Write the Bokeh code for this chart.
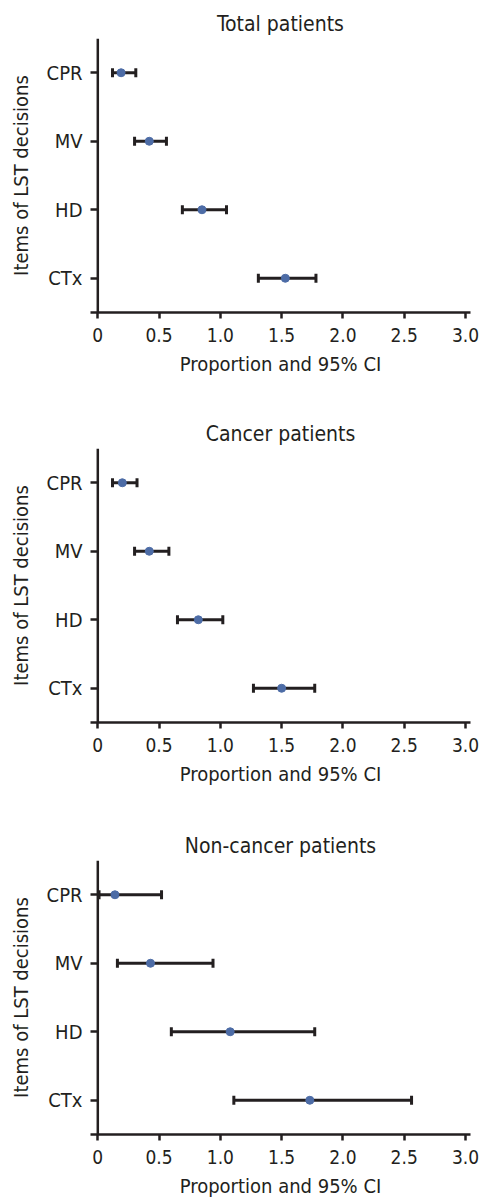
from bokeh.plotting import figure
from bokeh.models import ColumnDataSource, Whisker, TeeHead, Span, FixedTicker, FactorRange, Range1d
from bokeh.layouts import column
from bokeh.embed import file_html
from bokeh.resources import INLINE

# ---- data ----
categories = ["CPR", "MV", "HD", "CTx"]
panel_titles = ["Total patients", "Cancer patients", "Non-cancer patients"]

total_mid = [0.19, 0.42, 0.85, 1.53]
total_lo = [0.12, 0.30, 0.69, 1.31]
total_hi = [0.31, 0.56, 1.05, 1.78]

cancer_mid = [0.20, 0.42, 0.82, 1.50]
cancer_lo = [0.12, 0.30, 0.65, 1.27]
cancer_hi = [0.32, 0.58, 1.02, 1.77]

noncancer_mid = [0.14, 0.43, 1.08, 1.73]
noncancer_lo = [0.01, 0.16, 0.60, 1.11]
noncancer_hi = [0.52, 0.94, 1.77, 2.56]

x_ticks = [0, 0.5, 1.0, 1.5, 2.0, 2.5, 3.0]
x_tick_labels = ["0", "0.5", "1.0", "1.5", "2.0", "2.5", "3.0"]

x_label = "Proportion and 95% CI"
y_label = "Items of LST decisions"

FONT = "'DejaVu Sans Condensed', 'Liberation Sans Narrow', sans-serif"
TXT = "#231f20"
LINE = "#231f20"
DOT = "#4d6ca6"


def make_panel(title, mid, lo, hi, top, bottom):
    src = ColumnDataSource(dict(cat=categories, mid=mid, lo=lo, hi=hi))
    p = figure(
        width=481, height=top + 274 + bottom,
        min_border_left=90, min_border_right=11,
        min_border_top=top, min_border_bottom=bottom,
        x_range=Range1d(-0.0596, 3.041),
        y_range=FactorRange(factors=list(reversed(categories)), range_padding=0),
        output_backend="svg", toolbar_location=None,
    )
    p.outline_line_color = None
    p.xgrid.visible = False
    p.ygrid.visible = False

    p.title.text = title
    p.title.align = "center"
    p.title.text_font = FONT
    p.title.text_font_style = "normal"
    p.title.text_font_size = "21px"
    p.title.text_color = TXT
    p.title.standoff = 6

    # x axis
    xa = p.xaxis[0]
    xa.ticker = FixedTicker(ticks=x_ticks)
    xa.major_label_overrides = {t: l for t, l in zip(x_ticks, x_tick_labels)}
    xa.minor_tick_line_color = None
    xa.major_tick_in = 0
    xa.major_tick_out = 6
    xa.major_tick_line_width = 2.5
    xa.major_tick_line_color = LINE
    xa.axis_line_width = 2.5
    xa.axis_line_color = LINE
    xa.major_label_text_font = FONT
    xa.major_label_text_font_size = "19px"
    xa.major_label_text_color = TXT
    xa.major_label_standoff = 9
    xa.axis_label = x_label
    xa.axis_label_text_font = FONT
    xa.axis_label_text_font_style = "normal"
    xa.axis_label_text_font_size = "20px"
    xa.axis_label_text_color = TXT
    xa.axis_label_standoff = 7

    # y axis (line drawn at x = 0 via Span)
    ya = p.yaxis[0]
    ya.axis_line_color = None
    ya.major_tick_in = 7
    ya.major_tick_out = 0
    ya.major_tick_line_width = 2.5
    ya.major_tick_line_color = LINE
    ya.minor_tick_line_color = None
    ya.major_label_text_font = FONT
    ya.major_label_text_font_size = "20px"
    ya.major_label_text_color = TXT
    ya.major_label_standoff = 8
    ya.axis_label = y_label
    ya.axis_label_text_font = FONT
    ya.axis_label_text_font_style = "normal"
    ya.axis_label_text_font_size = "20px"
    ya.axis_label_text_color = TXT
    ya.axis_label_standoff = 11

    p.add_layout(Span(location=0, dimension="height", line_color=LINE, line_width=2.5))

    w = Whisker(
        source=src, base="cat", lower="lo", upper="hi", dimension="width",
        line_color=LINE, line_width=3, level="underlay",
        lower_head=TeeHead(size=9, line_width=3, line_color=LINE),
        upper_head=TeeHead(size=9, line_width=3, line_color=LINE),
    )
    p.add_layout(w)
    p.scatter(x="mid", y="cat", source=src, size=8, fill_color=DOT, line_color=DOT)
    return p


p1 = make_panel(panel_titles[0], total_mid, total_lo, total_hi, 38, 66)
p2 = make_panel(panel_titles[1], cancer_mid, cancer_lo, cancer_hi, 70, 66)
p3 = make_panel(panel_titles[2], noncancer_mid, noncancer_lo, noncancer_hi, 72, 68)

layout = column(p1, p2, p3, spacing=0)
open("out.html", "w").write(file_html(layout, INLINE))
